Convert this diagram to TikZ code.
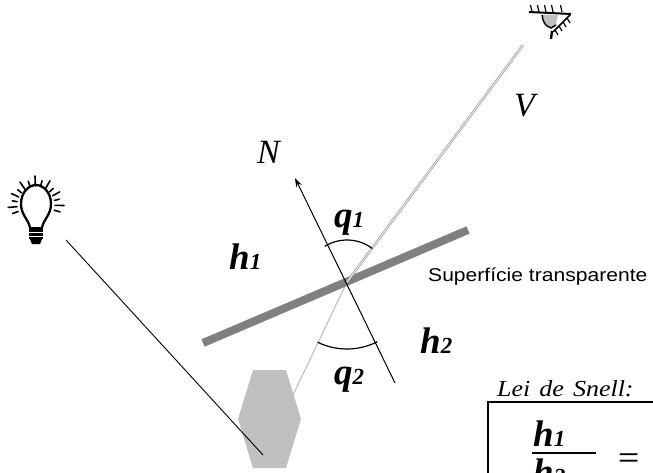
\documentclass[tikz,border=0pt]{standalone}
\usepackage{fontspec}
\setmainfont{Liberation Serif}
\newfontfamily\labelsans{Liberation Sans}
\usetikzlibrary{arrows.meta}
\definecolor{barGray}{HTML}{808080}
\definecolor{lightGray}{HTML}{C0C0C0}
\definecolor{viewGray}{HTML}{9A9A9A}
% bold italic angle / index symbol with its subscript
\newcommand{\qh}[2]{{\fontsize{37}{37}\selectfont\bfseries\itshape #1}{\fontsize{23}{23}\selectfont\bfseries\itshape #2}}
\begin{document}
\begin{tikzpicture}[x=1pt,y=-1pt,
  lbl/.style={inner sep=0pt,anchor=base west},
  axis/.style={line width=1pt,black},
  ray/.style={line width=1.6pt,line cap=round},
  hatch/.style={line width=1.2pt},
  anglearc/.style={line width=1.2pt}]
\useasboundingbox (0,0) rectangle (653,472);

% key points of the construction
\coordinate (O) at (347,282);
\coordinate (Ntip) at (295,178);
\coordinate (Nend) at (395,383);
\coordinate (Veye) at (523,45);
\coordinate (Vlow) at (293,395);
\coordinate (Lsrc) at (66,240);
\coordinate (Ltgt) at (263,455);
\coordinate (S1) at (203,343);
\coordinate (S2) at (468,230);

% object below the surface
\fill[lightGray] (253,370) -- (286,370) -- (301,419) -- (286,468) -- (253,468) -- (238,419) -- cycle;

% refracted ray towards the object
\draw[lightGray,line width=1.1pt] (O) -- (Vlow);
% incident light ray
\draw[line width=0.9pt] (Lsrc) -- (Ltgt);
% transparent surface
\draw[barGray,line width=8pt] (S1) -- (S2);
% normal
\draw[axis,-{Stealth[length=9pt,width=6pt]}] (Nend) -- (Ntip);
% viewing direction
\draw[viewGray,line width=0.7pt,double=white!85!gray,double distance=1pt] (O) -- (Veye);

% angle arcs
\draw[anglearc] (O) ++(-122:42) arc[start angle=-122,end angle=-53,radius=42];
\draw[anglearc] (O) ++(116:67) arc[start angle=116,end angle=63,radius=67];

% labels
\node[lbl,font=\fontsize{34}{34}\selectfont\itshape] (N) at (257,163) {N};
\node[lbl,font=\fontsize{34}{34}\selectfont\itshape] (V) at (514,116) {V};
\node[lbl] (q1) at (334,227) {\qh{q}{1}};
\node[lbl] (h1) at (229,269) {\qh{h}{1}};
\node[lbl] (h2) at (420,353) {\qh{h}{2}};
\node[lbl] (q2) at (334,384) {\qh{q}{2}};
\node[lbl,font=\labelsans\fontsize{18.5}{18.5}\selectfont] (surf) at (428,281)
  {\scalebox{1.14}[1]{Superfície transparente}};

% Snell's law box
\node[lbl,font=\fontsize{23}{23}\selectfont\itshape] (lei) at (497,396)
  {\scalebox{1.13}[1]{Lei\hspace{8pt}de\hspace{8pt}Snell:}};
\draw[line width=1.8pt] (488,560) -- (488,402) -- (760,402) -- (760,560) -- cycle;
\node[lbl] (fh1) at (533,446) {\qh{h}{1}};
\coordinate (barL) at (532,453);
\coordinate (barR) at (596,453);
\draw[line width=1.8pt] (barL) -- (barR);
\node[lbl] (fh2) at (533,484) {\qh{h}{2}};
\node[lbl,font=\labelsans\fontsize{26}{26}\selectfont] (eq) at (618,466) {\scalebox{1.4}[1]{=}};

% light bulb
\begin{scope}
  \draw[line width=2.3pt] (30,228) .. controls (29,220) and (21,215) .. (21,204)
    .. controls (21,192) and (29,185) .. (36,185)
    .. controls (43,185) and (51,192) .. (51,204)
    .. controls (51,215) and (43,220) .. (42,228);
  \fill (29,227) rectangle (43,239);
  \fill (30,239) -- (42,239) -- (40,244) -- (32,244) -- cycle;
  \draw[white,line width=0.7pt] (29,232) -- (43,232);
  \draw[white,line width=0.7pt] (29,236) -- (43,236);
  \foreach \a/\l in {160/6,175/9,190/5,205/8,220/5,235/9,252/6,268/10,284/6,300/9,316/5,331/8,346/5,1/9,16/6}
    \draw[ray] (36,205) ++(\a:19) -- ++(\a:\l);
\end{scope}

% eye
\begin{scope}
  \fill[lightGray] (542,15) -- (558,15) -- (556,24) -- (550,28) -- (546,24) -- cycle;
  \draw[line width=1.5pt] (542,15) .. controls (543,22) and (545,26) .. (551,28) -- (556,25);
  \draw[line width=2pt] (529,12) -- (571,14);
  \foreach \x in {532,539,546,553,562}
    \draw[hatch] (\x,12) -- ++(-1.5,-7);
  \draw[line width=1.5pt] (570,15) -- (553,32);
  \foreach \x/\y in {567/18,563/22,559/26,555/30}
    \draw[hatch] (\x,\y) -- ++(3,5);
  \draw[line width=2.4pt] (552,31) -- (551,39);
\end{scope}
\end{tikzpicture}
\end{document}
